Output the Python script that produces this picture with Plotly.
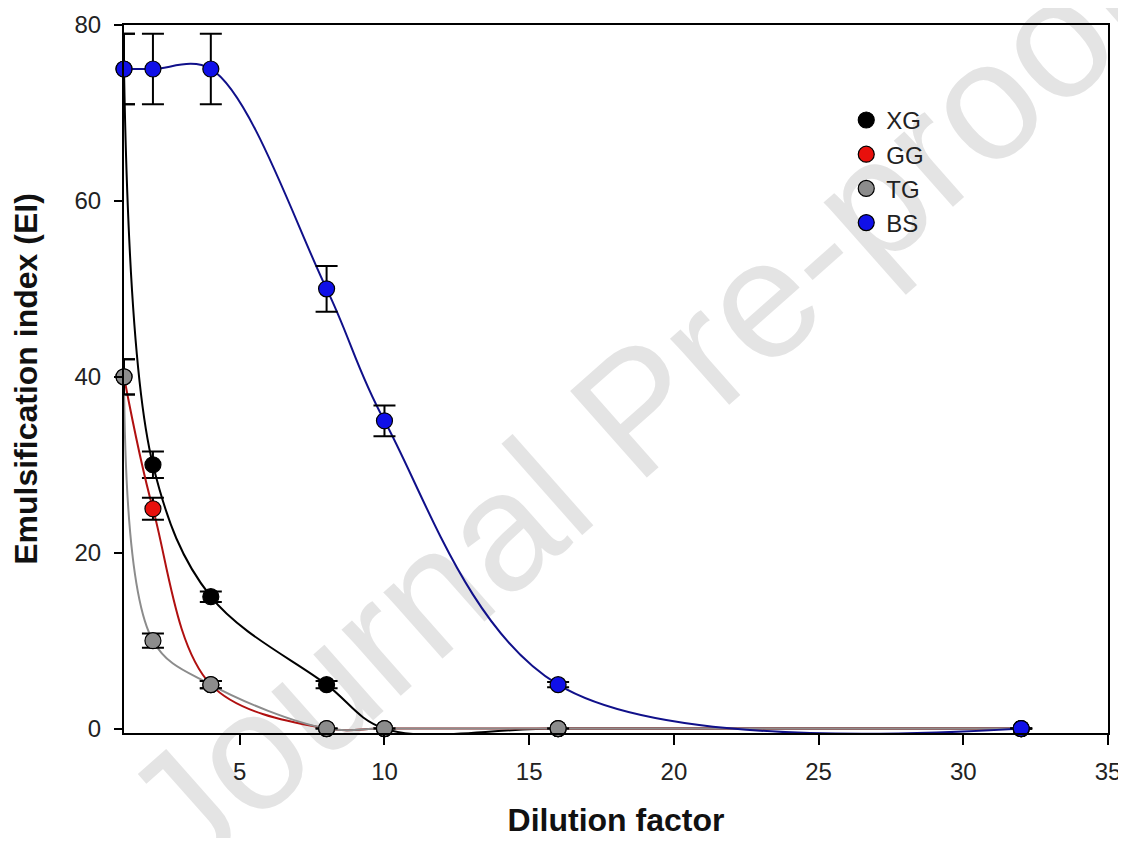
import plotly.graph_objects as go

# ---- data ----
dilution = [1, 2, 4, 8, 10, 16, 32]

xg_ei = [75, 30, 15, 5, 0, 0, 0]
xg_err = [4, 1.5, 0.6, 0.4, 0, 0, 0]

gg_ei = [40, 25, 5, 0, 0, 0, 0]
gg_err = [2, 1.25, 0.4, 0, 0, 0, 0]

tg_ei = [40, 10, 5, 0, 0, 0, 0]
tg_err = [2, 0.8, 0.4, 0, 0, 0, 0]

bs_ei = [75, 75, 75, 50, 35, 5, 0]
bs_err = [4, 4, 4, 2.6, 1.75, 0.3, 0]

x_ticks = [5, 10, 15, 20, 25, 30, 35]
y_ticks = [0, 20, 40, 60, 80]

series = [
    ("XG", xg_ei, xg_err, "#000000", "#000000", 1.0),
    ("GG", gg_ei, gg_err, "#e8100c", "#b01010", 1.0),
    ("TG", tg_ei, tg_err, "#8c8c8c", "#8c8c8c", 1.0),
    ("BS", bs_ei, bs_err, "#1010e8", "#10108a", 1.0),
]

FONT = "Liberation Sans, Arial, sans-serif"

fig = go.Figure()
for name, ys, errs, fill, lcol, smooth in series:
    fig.add_trace(go.Scatter(
        x=dilution, y=ys, mode="lines",
        line=dict(shape="spline", smoothing=smooth, color=lcol, width=2),
        showlegend=False, hoverinfo="skip", cliponaxis=False,
    ))
    fig.add_trace(go.Scatter(
        x=dilution, y=ys, mode="markers", name=name,
        marker=dict(size=16, color=fill, line=dict(color="#000000", width=1.2)),
        error_y=dict(type="data", array=[e if e > 0 else None for e in errs],
                     color="#000000", thickness=2, width=11),
        cliponaxis=False,
    ))

# page body has an 8px margin: figure is 1118x830, plot area 116..1100 x 17..725
fig.update_layout(
    width=1118, height=830,
    margin=dict(l=116, r=18, t=17, b=105, autoexpand=False),
    paper_bgcolor="white", plot_bgcolor="white",
    font=dict(family=FONT, size=24, color="#222222"),
    showlegend=True,
    legend=dict(x=0.734, y=0.897, xanchor="left", yanchor="top",
                bgcolor="rgba(0,0,0,0)", font=dict(size=24, color="#222222")),
    xaxis=dict(
        range=[1, 35], tickvals=x_ticks, ticks="outside", ticklen=10, tickwidth=2,
        tickcolor="black", showline=True, linewidth=2, linecolor="black", mirror=True,
        showgrid=False, zeroline=False, ticklabelstandoff=6, ticklabeloverflow="allow",
        automargin=False,
        title=dict(text="<b>Dilution factor</b>", font=dict(size=32, color="#111111"), standoff=46),
    ),
    yaxis=dict(
        range=[-0.5, 80], tickvals=y_ticks, ticks="outside", ticklen=8, tickwidth=2,
        tickcolor="black", showline=True, linewidth=2, linecolor="black", mirror=True,
        showgrid=False, zeroline=False, ticklabelstandoff=8, automargin=False,
        title=dict(text="<b>Emulsification index (EI)</b>", font=dict(size=32, color="#111111"), standoff=29),
    ),
)

# watermark
fig.add_shape(
    type="line", xref="paper", yref="paper",
    x0=0.043, y0=-0.284, x1=1.108, y1=1.027,
    line=dict(width=0, color="rgba(0,0,0,0)"), layer="below",
    label=dict(text="Journal Pre-proof", textposition="middle",
               font=dict(size=168, color="#e4e4e4", family=FONT)),
)

fig.write_html("out.html")
